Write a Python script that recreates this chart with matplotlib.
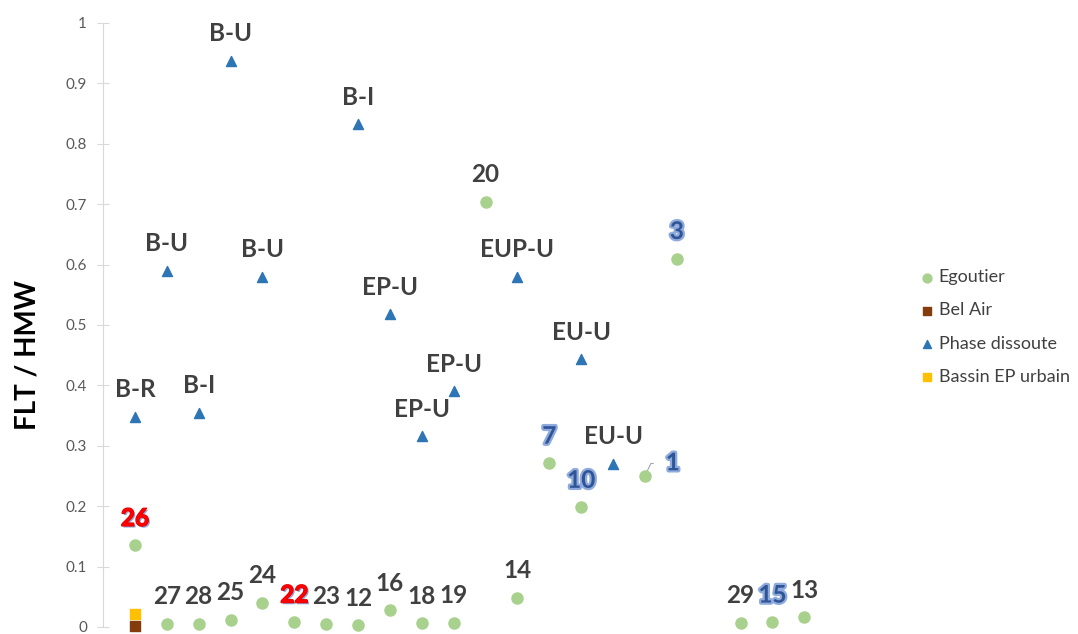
import matplotlib
matplotlib.use("Agg")
import matplotlib.pyplot as plt
import matplotlib.patheffects as pe

plt.rcParams["font.family"] = ["Lato", "DejaVu Sans"]

# Egoutier samples
ego_x = [1, 2, 3, 4, 5, 6, 7, 8, 9, 10, 11, 12, 13, 14, 15, 17, 18, 20, 21, 22]
ego_y = [0.135, 0.005, 0.005, 0.012, 0.040, 0.008, 0.005, 0.003, 0.028, 0.006,
         0.007, 0.704, 0.048, 0.271, 0.198, 0.250, 0.610, 0.007, 0.008, 0.016]
ego_lbl = ["26", "27", "28", "25", "24", "22", "23", "12", "16", "18",
           "19", "20", "14", "7", "10", "1", "3", "29", "15", "13"]

# Bel Air
bel_x = [1]
bel_y = [0.002]

# Phase dissoute
pd_x = [1, 2, 3, 4, 5, 8, 9, 10, 11, 13, 15, 16]
pd_y = [0.348, 0.590, 0.355, 0.937, 0.580, 0.832, 0.518, 0.316, 0.390, 0.580, 0.443, 0.270]
pd_lbl = ["B-R", "B-U", "B-I", "B-U", "B-U", "B-I", "EP-U", "EP-U", "EP-U", "EUP-U", "EU-U", "EU-U"]

# Bassin EP urbain
bas_x = [1]
bas_y = [0.022]

red_lbl = {"26", "22"}
blue_lbl = {"7", "10", "1", "3", "15"}

fig = plt.figure(figsize=(10.78, 6.34), dpi=100)
ax = fig.add_axes([103 / 1078, 7 / 634, (900 - 103) / 1078, 604 / 634])

ax.scatter(ego_x, ego_y, s=64, marker="o", color="#A9D18E", label="Egoutier", clip_on=False, zorder=3)
ax.scatter(bel_x, bel_y, s=42, marker="s", color="#843C0C", label="Bel Air", clip_on=False, zorder=3)
ax.scatter(pd_x, pd_y, s=52, marker="^", color="#2E75B6", label="Phase dissoute", clip_on=False, zorder=3)
ax.scatter(bas_x, bas_y, s=42, marker="s", color="#FFC000", label="Bassin EP urbain", clip_on=False, zorder=3)

dark = "#404040"
for x, y, t in zip(pd_x, pd_y, pd_lbl):
    ax.annotate(t, (x, y), xytext=(0, 19.5), textcoords="offset points",
                ha="center", va="center", fontsize=17.5, fontweight="bold", color=dark)

for x, y, t in zip(ego_x, ego_y, ego_lbl):
    kw = dict(ha="center", va="center", fontsize=17.5, fontweight="bold", color=dark)
    off = (0, 19.5)
    if t in red_lbl:
        kw["color"] = "#FF0000"
        kw["path_effects"] = [pe.SimplePatchShadow(offset=(1.2, -1.2), shadow_rgbFace="#8FAADC", alpha=1),
                              pe.withStroke(linewidth=1, foreground="#E00000")]
    elif t in blue_lbl:
        kw["color"] = "#2F5597"
        kw["path_effects"] = [pe.withStroke(linewidth=3.2, foreground="#8FAADC")]
    if t == "1":
        off = (20, 9.5)
        # small leader line from the point toward its label
        ax.annotate("", xy=(x, y), xytext=(6, 9), textcoords="offset points", zorder=2,
                    arrowprops=dict(arrowstyle="-", color="#A6A6A6", lw=0.8, shrinkA=0, shrinkB=0,
                                    connectionstyle="angle,angleA=0,angleB=65,rad=0"))
    ax.annotate(t, (x, y), xytext=off, textcoords="offset points", **kw)

ax.set_xlim(0, 25)
ax.set_ylim(0, 1)
ax.set_yticks([i / 10 for i in range(11)])
ax.set_yticklabels(["0", "0.1", "0.2", "0.3", "0.4", "0.5", "0.6", "0.7", "0.8", "0.9", "1"])
ax.set_xticks([])
for side in ["top", "right", "bottom"]:
    ax.spines[side].set_visible(False)
ax.spines["left"].set_color("#D9D9D9")
ax.tick_params(axis="y", direction="inout", length=9, width=0.8, color="#D9D9D9",
               labelsize=11, labelcolor="#595959", pad=7)

ax.set_ylabel("FLT / HMW", fontsize=20, fontweight="bold", color="black")
ax.yaxis.set_label_coords(-0.078, 0.45)

fig.legend(loc="upper left", bbox_to_anchor=(900 / 1078, 1 - 253 / 634), frameon=False,
           fontsize=13, labelcolor=dark, handletextpad=0.05, labelspacing=0.95,
           markerscale=0.8, handlelength=1.2)

fig.savefig("out.png", dpi=100)
